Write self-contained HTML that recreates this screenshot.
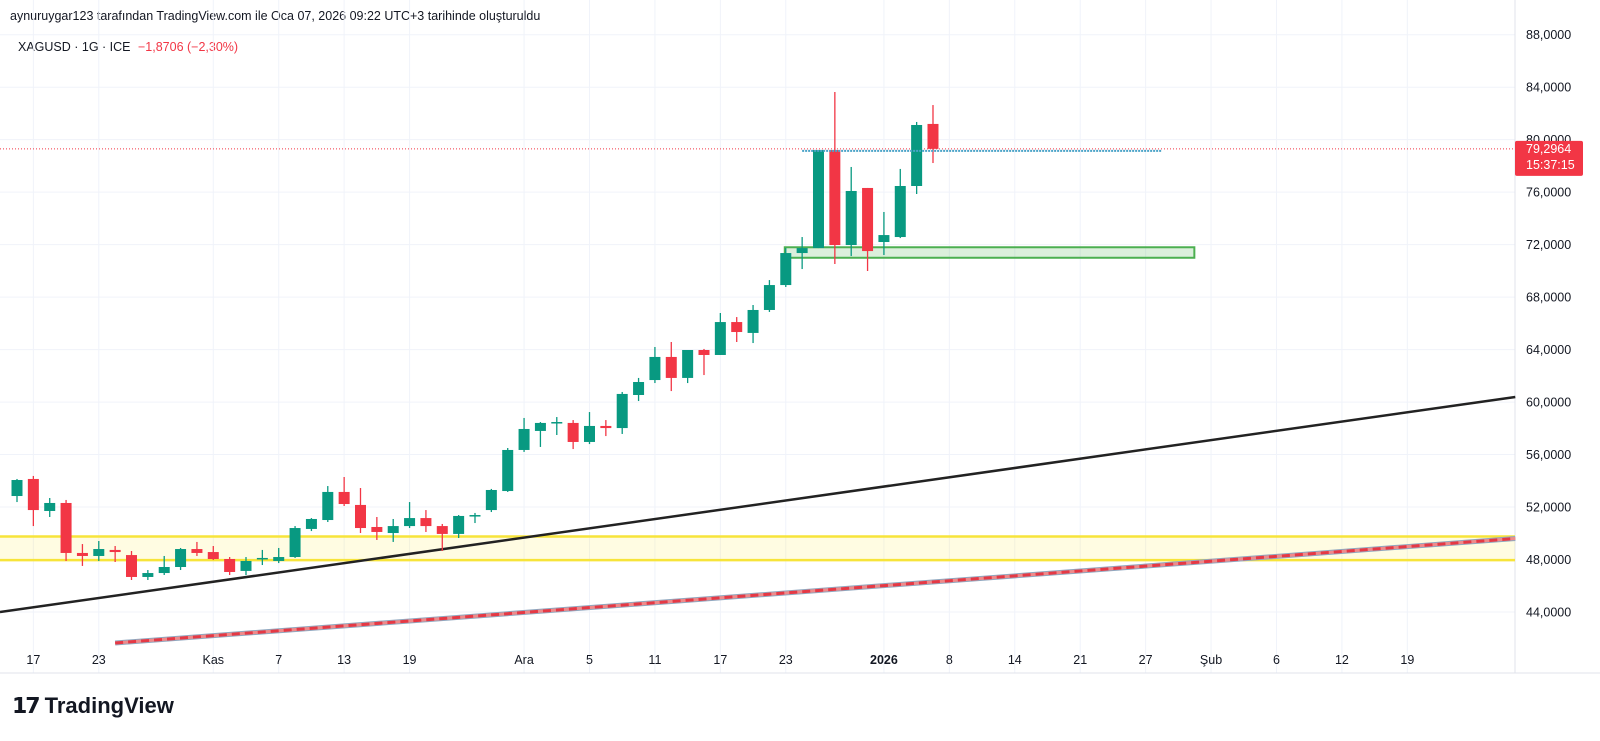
<!DOCTYPE html>
<html><head><meta charset="utf-8"><style>
html,body{margin:0;padding:0;background:#fff;}
body{width:1600px;height:741px;overflow:hidden;position:relative;font-family:"Liberation Sans",sans-serif;}
.t{position:absolute;white-space:nowrap;}
</style></head><body>
<div class="t" style="left:10px;top:9px;font-size:12.5px;color:#131722;">aynuruygar123 tarafından TradingView.com ile Oca 07, 2026 09:22 UTC+3 tarihinde oluşturuldu</div>
<div class="t" style="left:18px;top:40px;font-size:12.5px;color:#131722;">XAGUSD · 1G · ICE <span style="color:#f23645;margin-left:4px;">−1,8706 (−2,30%)</span></div>
<div class="t" style="left:12px;top:693px;font-size:22px;font-weight:bold;color:#131722;"><span style="letter-spacing:-2px;margin-right:6px;">𝟭𝟳</span>TradingView</div>
<svg id="c" width="1600" height="741" style="position:absolute;left:0;top:0;"></svg>
<script>
const opens=[52.84,54.14,51.70,52.31,48.50,48.27,48.73,48.34,46.67,46.97,47.43,48.80,48.57,48.04,47.13,48.04,47.89,48.19,50.33,51.01,53.15,52.16,50.48,50.02,50.55,51.16,50.55,49.95,51.32,51.77,53.22,56.35,57.80,58.41,58.41,56.96,58.18,58.02,60.54,61.68,63.44,61.84,63.97,63.59,66.10,65.27,67.02,68.92,71.36,71.74,79.21,71.97,76.32,72.20,72.58,76.47,81.20];
const closes=[54.06,51.77,52.31,48.50,48.27,48.80,48.57,46.67,46.97,47.43,48.80,48.50,48.04,47.05,47.89,48.12,48.19,50.40,51.09,53.15,52.23,50.40,50.10,50.55,51.16,50.55,49.95,51.32,51.39,53.30,56.35,57.95,58.41,58.48,56.96,58.18,58.02,60.62,61.53,63.44,61.84,63.97,63.59,66.10,65.34,67.02,68.92,71.36,71.74,79.21,71.97,76.09,71.51,72.73,76.47,81.12,79.30];
const highs=[54.14,54.37,52.69,52.54,49.18,49.41,49.03,48.65,47.20,48.27,48.88,49.34,49.03,48.19,48.19,48.73,48.88,50.55,51.16,53.60,54.29,53.45,51.24,51.09,52.38,51.77,50.71,51.39,51.55,53.38,56.50,58.79,58.48,58.86,58.63,59.24,58.63,60.77,61.84,64.20,64.58,63.97,64.05,66.79,66.48,67.40,69.30,71.74,72.58,79.21,83.63,77.92,76.32,74.49,77.77,81.35,82.64];
const lows=[52.38,50.55,51.24,47.89,47.51,47.89,47.81,46.44,46.44,46.82,47.20,48.27,47.96,46.82,46.82,47.58,47.73,48.12,50.17,50.86,52.08,50.02,49.49,49.34,50.40,50.10,48.65,49.64,50.78,51.62,53.15,56.20,56.58,57.49,56.42,56.80,57.41,57.57,60.08,61.45,60.84,61.45,62.06,63.59,64.58,64.50,66.87,68.77,70.14,71.74,70.52,71.13,69.99,71.21,72.50,75.86,78.22];
const priceTicks=[88,84,80,76,72,68,64,60,56,52,48,44];
const timeLabels=["17","23","Kas","7","13","19","Ara","5","11","17","23","2026","8","14","21","27","Şub","6","12","19"];
const timeIdx=[1,5,12,16,20,24,31,35,39,43,47,53,57,61,65,69,73,77,81,85];
const lastPrice=79.2964;
const zoneYellow=[47.95,49.75];
const zoneGreen=[71.0,71.8];
const blackLine=[-1.04,44.0,91.6,60.39];
const redLine=[6,41.64,91.6,49.6];
const hLine=[48,79.15,70];

const S=document.getElementById('c');const NS='http://www.w3.org/2000/svg';
const R=1515, B=673;
const X0=17, DX=16.357;
function xOf(i){return X0+i*DX;}
function yOf(p){return 612-(p-44)*13.12;}
function mk(tag,attrs,parent){const e=document.createElementNS(NS,tag);for(const k in attrs)e.setAttribute(k,attrs[k]);(parent||S).appendChild(e);return e;}

priceTicks.forEach(p=>{const l=mk('line',{x1:0,x2:R,y1:yOf(p),y2:yOf(p),stroke:'#f0f3fa','stroke-width':1});


const t=mk('text',{x:1526,y:yOf(p)+4.5,'font-size':12.5,fill:'#131722','font-family':'Liberation Sans, sans-serif'});t.textContent=p.toFixed(4).replace('.',',');

});
timeIdx.forEach((i,k)=>{const x=xOf(i);const l=mk('line',{x1:x,x2:x,y1:0,y2:B,stroke:'#f0f3fa','stroke-width':1});


const t=mk('text',{x:x,y:664,'font-size':12.5,fill:'#131722','text-anchor':'middle','font-weight':timeLabels[k]==='2026'?'bold':'normal','font-family':'Liberation Sans, sans-serif'});t.textContent=timeLabels[k];

});
const ax=mk('line',{x1:R,x2:R,y1:0,y2:B,stroke:'#e0e3eb'});


const bx=mk('line',{x1:0,x2:1600,y1:B,y2:B,stroke:'#e0e3eb'});



const yz=mk('rect',{x:0,y:yOf(zoneYellow[1]),width:R,height:yOf(zoneYellow[0])-yOf(zoneYellow[1]),fill:'rgba(255,235,59,0.15)'});


zoneYellow.forEach(p=>{const l=mk('line',{x1:0,x2:R,y1:yOf(p),y2:yOf(p),stroke:'#f7e43a','stroke-width':2.5});

});

const rl1=mk('line',{x1:xOf(redLine[0]),y1:yOf(redLine[1]),x2:xOf(redLine[2]),y2:yOf(redLine[3]),stroke:'#8fa7bf','stroke-width':5});


const rl2=mk('line',{x1:xOf(redLine[0]),y1:yOf(redLine[1]),x2:xOf(redLine[2]),y2:yOf(redLine[3]),stroke:'#f08a8a','stroke-width':3});


const rl3=mk('line',{x1:xOf(redLine[0]),y1:yOf(redLine[1]),x2:xOf(redLine[2]),y2:yOf(redLine[3]),stroke:'#e53945','stroke-width':3,'stroke-dasharray':'8 5'});



const bl=mk('line',{x1:xOf(blackLine[0]),y1:yOf(blackLine[1]),x2:xOf(blackLine[2]),y2:yOf(blackLine[3]),stroke:'#222','stroke-width':2.5});



const gz=mk('rect',{x:xOf(47)-1,y:yOf(zoneGreen[1]),width:xOf(71)-xOf(47)+17,height:yOf(zoneGreen[0])-yOf(zoneGreen[1]),fill:'rgba(76,175,80,0.2)',stroke:'#4caf50','stroke-width':2});



const lp=mk('line',{x1:0,x2:R,y1:yOf(lastPrice),y2:yOf(lastPrice),stroke:'#f23645','stroke-width':1,'stroke-dasharray':'1 2'});



for(let i=0;i<opens.length;i++){
  const up=closes[i]>=opens[i];const col=up?'#089981':'#f23645';const x=xOf(i);
  const g=mk('g',{});
  
  
  mk('line',{x1:x,x2:x,y1:yOf(highs[i]),y2:yOf(lows[i]),stroke:col,'stroke-width':1.3},g);
  const top=yOf(Math.max(opens[i],closes[i])),bot=yOf(Math.min(opens[i],closes[i]));
  mk('rect',{x:x-5.5,y:top,width:11,height:Math.max(1.5,bot-top),fill:col},g);
}

const hl=mk('line',{x1:xOf(hLine[0]),x2:xOf(hLine[2]),y1:yOf(hLine[1]),y2:yOf(hLine[1]),stroke:'#4aa3c8','stroke-width':2,'stroke-dasharray':'2 1'});



const pg=mk('g',{});


mk('rect',{x:R,y:yOf(lastPrice)-8,width:68,height:35,fill:'#f23645',rx:2},pg);
const t1=mk('text',{x:1526,y:yOf(lastPrice)+4,'font-size':12.5,fill:'#fff','font-family':'Liberation Sans, sans-serif'},pg);t1.textContent=lastPrice.toFixed(4).replace('.',',');
const t2=mk('text',{x:1526,y:yOf(lastPrice)+20,'font-size':12.5,fill:'#fff','font-family':'Liberation Sans, sans-serif'},pg);t2.textContent='15:37:15';
</script>
</body></html>
